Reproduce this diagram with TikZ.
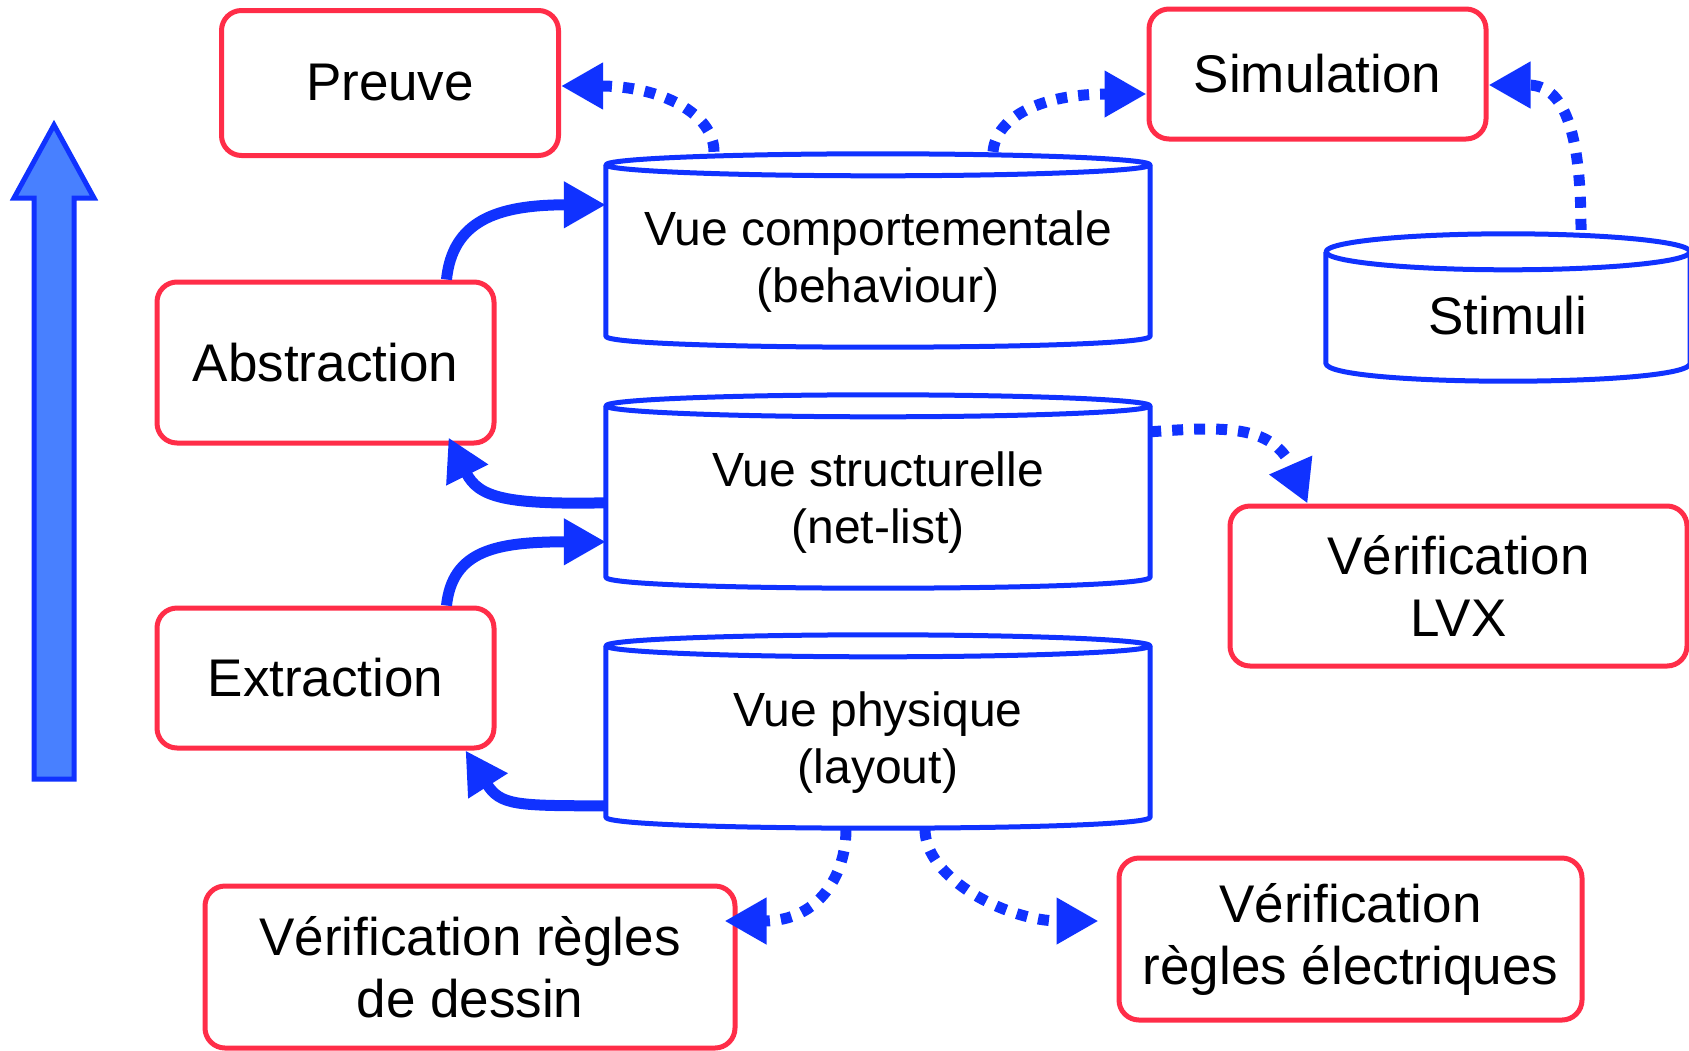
\documentclass[tikz,border=0pt]{standalone}
\usepackage{fontspec}
\setmainfont{Liberation Sans}
\usetikzlibrary{arrows.meta}
\definecolor{cblue}{RGB}{16,50,255}
\definecolor{cred}{RGB}{255,45,72}
\definecolor{cfill}{RGB}{72,128,255}

\begin{document}
\begin{tikzpicture}[x=1pt,y=-1pt,
  box/.style={draw=cred, line width=5pt, rounded corners=20pt, align=center,
    inner sep=0pt, font=\fontsize{53pt}{62pt}\selectfont},
  body/.style={draw=none, inner sep=0pt},
  cyllabel/.style={align=center, inner sep=0pt, font=\fontsize{48pt}{57pt}\selectfont},
  cylline/.style={draw=cblue, line width=5pt, line join=round},
  link/.style={draw=cblue, line width=11pt, -{Triangle[length=42pt,width=44pt]}},
  dotlink/.style={link, dash pattern=on 11pt off 11pt},
]
\useasboundingbox (0,0) rectangle (1689,1050);
\clip (0,0) rectangle (1689,1050);

% upward level arrow
\draw[draw=cblue, fill=cfill, line width=5pt, line join=miter]
  (34,779) -- (34,198) -- (14,198) -- (54,125) -- (94,198) -- (74,198) -- (74,779) -- cycle;

% tool boxes
\node[box, minimum width=337pt, minimum height=145pt] (pre) at (390,83) {Preuve};
\node[box, minimum width=337pt, minimum height=130pt] (sim) at (1317.5,74) {Simulation};
\node[box, minimum width=337pt, minimum height=161pt] (abs) at (325.5,362.5) {Abstraction};
\node[box, minimum width=337pt, minimum height=140pt] (ext) at (325.5,678) {Extraction};
\node[box, minimum width=457pt, minimum height=160pt] (lvx) at (1458.5,586) {Vérification\\LVX};
\node[box, minimum width=530pt, minimum height=162pt] (dess) at (470,967) {Vérification règles\\de dessin};
\node[box, minimum width=463pt, minimum height=162pt] (elec) at (1350.5,939) {Vérification\\règles électriques};

% database cylinders
\node[body, minimum width=544pt, minimum height=171pt] (c1) at (878,250.5) {};
\node[body, minimum width=544pt, minimum height=171pt] (c2) at (878,491.5) {};
\node[body, minimum width=544pt, minimum height=171pt] (c3) at (878,731.5) {};
\node[body, minimum width=364pt, minimum height=111pt] (st) at (1508,307.5) {};

\foreach \c/\rx/\ry in {c1/272/11, c2/272/11, c3/272/11, st/182/18}{
  \draw[cylline] (\c.north) ellipse [x radius=\rx pt, y radius=\ry pt];
  \draw[cylline] (\c.north west) -- (\c.south west)
    .. controls +(0,{4/3*\ry}) and +(0,{4/3*\ry}) .. (\c.south east) -- (\c.north east);
}

\node[cyllabel] (c1l) at (878,262) {Vue comportementale\\(behaviour)};
\node[cyllabel] (c2l) at (878,503) {Vue structurelle\\(net-list)};
\node[cyllabel] (c3l) at (878,743) {Vue physique\\(layout)};
\node[box, draw=none] (stl) at (1508,316) {Stimuli};

% abstraction / extraction flow
\draw[link] ([xshift=-50pt]abs.north east) .. controls +(6,-58) and +(-110,0) .. ([yshift=-40pt]c1.north west);
\draw[link] ([yshift=-97pt]c2.north west) .. controls +(-100,2) and +(30,60) .. ([xshift=-48pt,yshift=8pt]abs.south east);
\draw[link] ([xshift=-50pt]ext.north east) .. controls +(6,-55) and +(-110,0) .. ([yshift=-136pt]c2.north west);
\draw[link] ([yshift=-160pt]c3.north west) .. controls +(-90,0) and +(35,55) .. ([xshift=-31pt]ext.south east);

% verification flows
\draw[dotlink] ([xshift=-164pt,yshift=13pt]c1.north) .. controls +(0,-38) and +(100,0) .. ([yshift=-3pt]pre.east);
\draw[dotlink] ([xshift=115pt,yshift=13pt]c1.north) .. controls +(3,-35) and +(-105,0) .. ([yshift=-20pt]sim.west);
\draw[dotlink] ([xshift=73pt,yshift=22pt]st.north) .. controls +(0,-100) and +(75,0) .. ([yshift=-11pt]sim.east);
\draw[dotlink] ([yshift=-26pt]c2.north east) .. controls +(70,-5) and +(-35,-80) .. ([xshift=80pt]lvx.north west);
\draw[dotlink] ([xshift=-32pt,yshift=-12pt]c3.south) .. controls +(0,45) and +(95,0) .. ([xshift=-13pt,yshift=46pt]dess.east);
\draw[dotlink] ([xshift=47pt,yshift=-12pt]c3.south) .. controls +(0,50) and +(-90,0) .. ([xshift=-18pt,yshift=18pt]elec.west);
\end{tikzpicture}
\end{document}
